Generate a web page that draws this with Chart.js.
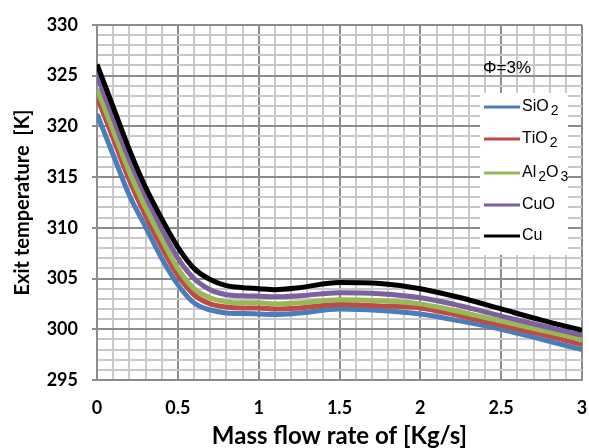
<!DOCTYPE html>
<html>
<head>
<meta charset="utf-8">
<script src="https://cdn.jsdelivr.net/npm/chart.js@4.4.1/dist/chart.umd.min.js"></script>
<style>
  html, body { margin: 0; padding: 0; background: #fff; }
</style>
</head>
<body>
<canvas id="chart" width="589" height="448"></canvas>
<script>
// mass flow rate [Kg/s]
const flowRate = [0, 0.1, 0.2, 0.3, 0.4, 0.5, 0.6, 0.7, 0.8, 0.9, 1.0, 1.1, 1.25, 1.5, 1.75, 2.0, 2.25, 2.5, 2.75, 3.0];

// exit temperature [K], phi = 3%
const sio2  = [321.2, 317.2, 313.2, 310.1, 307.0, 304.4, 302.6, 301.9, 301.6, 301.55, 301.5, 301.45, 301.6, 302.0, 301.85, 301.5, 300.8, 300.0, 299.0, 298.0];
const tio2  = [322.9, 318.8, 314.7, 311.2, 308.1, 305.3, 303.4, 302.5, 302.2, 302.1, 302.1, 302.0, 302.1, 302.45, 302.3, 302.1, 301.3, 300.4, 299.5, 298.5];
const al2o3 = [323.7, 319.6, 315.5, 312.0, 308.9, 306.0, 304.0, 303.1, 302.7, 302.6, 302.6, 302.5, 302.6, 302.9, 302.8, 302.5, 301.7, 300.8, 299.9, 299.0];
const cuo   = [325.0, 320.8, 316.7, 313.1, 309.9, 307.0, 305.0, 303.9, 303.4, 303.3, 303.25, 303.2, 303.3, 303.6, 303.5, 303.1, 302.3, 301.3, 300.35, 299.4];
const cu    = [326.1, 321.9, 317.7, 314.0, 310.9, 308.1, 306.0, 304.9, 304.3, 304.1, 304.0, 303.9, 304.1, 304.6, 304.5, 304.0, 303.1, 302.0, 300.9, 299.9];

const seriesNames = ['SiO2', 'TiO2', 'Al2O3', 'CuO', 'Cu'];
const seriesValues = [sio2, tio2, al2o3, cuo, cu];
const seriesColors = ['#4a7ebb', '#be4b48', '#98b954', '#7d60a0', '#000000'];

const xTicks = [0, 0.5, 1, 1.5, 2, 2.5, 3];
const yTicks = [295, 300, 305, 310, 315, 320, 325, 330];

const majorGrid = '#8c8c8c';
const minorGrid = '#c8c8c8';

function isMajorX(v) { return xTicks.some(t => Math.abs(t - v) < 1e-6); }
function isMajorY(v) { return yTicks.some(t => Math.abs(t - v) < 1e-6); }

const datasets = seriesNames.map((name, i) => ({
  label: name,
  data: flowRate.map((x, k) => ({ x: x, y: seriesValues[i][k] })),
  borderColor: seriesColors[i],
  backgroundColor: seriesColors[i],
  borderWidth: 5,
  pointRadius: 0,
  cubicInterpolationMode: 'monotone',
  order: seriesNames.length - i
}));

// draw "SiO2" style names with the digits lowered
function drawChemName(ctx, name, x, y) {
  let cx = x;
  for (const ch of name) {
    if (/[0-9]/.test(ch)) {
      ctx.font = '14px "Liberation Sans Narrow", "Liberation Sans", sans-serif';
      ctx.fillText(ch, cx + 2, y + 4);
      cx += ctx.measureText(ch).width + 2;
    } else {
      ctx.font = '16px "Liberation Sans Narrow", "Liberation Sans", sans-serif';
      ctx.fillText(ch, cx, y);
      cx += ctx.measureText(ch).width;
    }
  }
}

const insideLegend = {
  id: 'insideLegend',
  afterDraw(chart) {
    const ctx = chart.ctx;
    ctx.save();
    // phi label
    ctx.fillStyle = '#000';
    ctx.font = '17px "Liberation Sans", sans-serif';
    ctx.textBaseline = 'middle';
    ctx.textAlign = 'left';
    ctx.fillText('\u03A6=3%', 483, 68);

    // legend box
    ctx.fillStyle = '#fff';
    ctx.fillRect(480, 93, 88, 162);
    const rowY = [107, 139, 173, 205, 236];
    chart.data.datasets.forEach((ds, i) => {
      const y = rowY[i];
      ctx.strokeStyle = ds.borderColor;
      ctx.lineWidth = 3;
      ctx.beginPath();
      ctx.moveTo(484, y);
      ctx.lineTo(520, y);
      ctx.stroke();
      ctx.fillStyle = '#000';
      ctx.textBaseline = 'middle';
      drawChemName(ctx, ds.label, 522, y);
    });
    ctx.restore();
  }
};

new Chart(document.getElementById('chart'), {
  type: 'line',
  data: { datasets: datasets },
  options: {
    responsive: false,
    devicePixelRatio: 1,
    animation: false,
    layout: { padding: { top: 20, right: 7, left: 0, bottom: 0 } },
    plugins: {
      legend: { display: false },
      tooltip: { enabled: false }
    },
    scales: {
      x: {
        type: 'linear',
        min: 0,
        max: 3,
        afterFit: (scale) => {
          scale.height = 68;
          scale.paddingLeft = 0;
          scale.paddingRight = 5;
        },
        ticks: {
          stepSize: 0.1,
          autoSkip: false,
          maxRotation: 0,
          padding: 17,
          color: '#000',
          font: { family: 'Lato', weight: 'bold', size: 18 },
          callback: (v) => isMajorX(v) ? String(Math.round(v * 10) / 10) : ''
        },
        grid: {
          drawTicks: false,
          lineWidth: 2,
          color: (c) => isMajorX(c.tick.value) ? majorGrid : minorGrid
        },
        border: { display: true, color: majorGrid, width: 2 },
        title: {
          display: true,
          text: 'Mass flow rate of [Kg/s]',
          color: '#000',
          font: { family: 'Lato', weight: 'bold', size: 24 },
          padding: { top: 0, bottom: -3 }
        }
      },
      y: {
        min: 295,
        max: 330,
        afterFit: (scale) => { scale.width = 97; },
        ticks: {
          stepSize: 1,
          autoSkip: false,
          padding: 14,
          color: '#000',
          font: { family: 'Lato', weight: 'bold', size: 18 },
          callback: (v) => isMajorY(v) ? String(v) : ''
        },
        grid: {
          tickLength: 5,
          tickWidth: 2,
          tickColor: (c) => isMajorY(c.tick.value) ? majorGrid : 'rgba(0,0,0,0)',
          lineWidth: 2,
          color: (c) => isMajorY(c.tick.value) ? majorGrid : minorGrid
        },
        border: { display: true, color: majorGrid, width: 2 },
        title: {
          display: true,
          text: 'Exit temperature  [K]',
          color: '#000',
          font: { family: 'Lato', weight: 'bold', size: 20 },
          padding: { top: 11, bottom: 0 }
        }
      }
    }
  },
  plugins: [insideLegend]
});
</script>
</body>
</html>
